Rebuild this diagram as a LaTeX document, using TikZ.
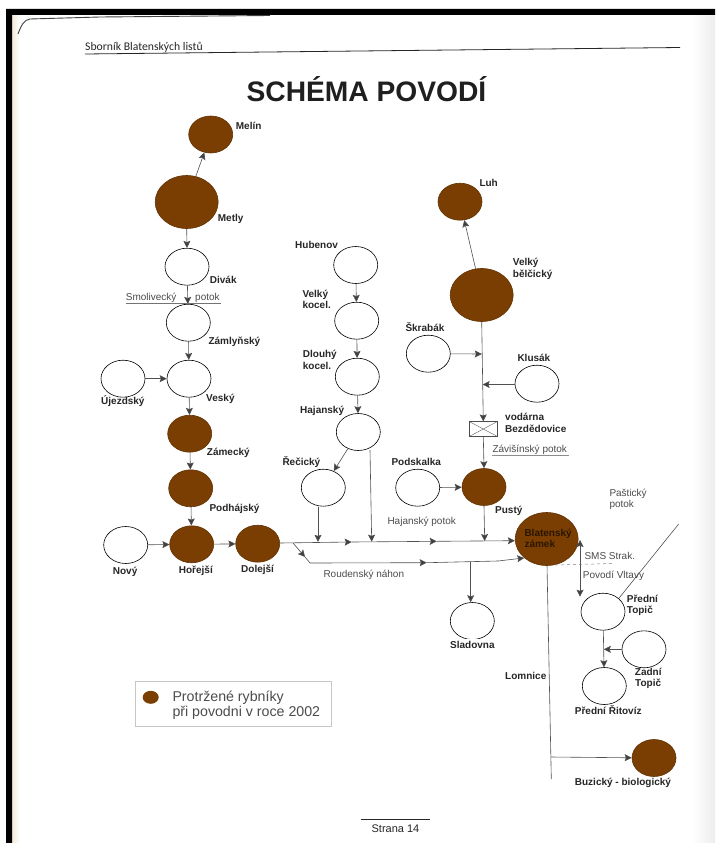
\documentclass[tikz,border=0pt]{standalone}
\usepackage{fontspec}
\setmainfont{Liberation Sans}
\newfontfamily\headfont{Carlito}
\usetikzlibrary{shapes.geometric,arrows.meta}
\definecolor{pond}{HTML}{7A3E02}
\definecolor{ln}{HTML}{505050}
\definecolor{cream}{HTML}{F3EBD8}
\tikzset{
  pondnode/.style={ellipse,draw=black,line width=0.6pt,minimum width=44pt,minimum height=37pt,inner sep=0pt},
  hit/.style={pondnode,fill=pond,draw=pond!80!black},
  bighit/.style={hit,minimum width=63pt,minimum height=53pt},
  lab/.style={anchor=west,inner sep=0pt,font=\bfseries\fontsize{10}{12}\selectfont,text=black!85,text height=7pt,text depth=2pt},
  river/.style={anchor=west,inner sep=0pt,font=\fontsize{10}{12}\selectfont,text=black!70,text height=7pt,text depth=2pt},
  flow/.style={draw=ln,line width=0.6pt,-{Stealth[length=7pt,width=7pt,inset=1.2pt,fill=black!75]}},
  plainflow/.style={draw=ln,line width=0.6pt},
}
\begin{document}
\begin{tikzpicture}[x=1pt,y=-1pt]
\useasboundingbox (0,0) rectangle (715,843);
\fill[white] (0,0) rectangle (715,843);
% scan frame and page edge
\shade[left color=cream,right color=white] (12,15) rectangle (20,843);
\shade[left color=white,right color=black!7] (692,15) rectangle (715,843);
\fill[black] (6,843) -- (6,9) -- (715,9) -- (715,15) -- (12,15) -- (12,843) -- cycle;
\draw[black!75,line width=0.9pt] (18,34) .. controls (21,26) and (24,19.5) .. (30,19) -- (100,17) -- (270,15.5);
% header
\node[anchor=west,inner sep=0pt,font=\headfont\fontsize{11.7}{14}\selectfont,text=black!85] (head) at (85,47) {Sborník Blatenských listů};
\coordinate (ruleA) at (85,54);
\coordinate (ruleB) at (680,47.5);
\draw[black!85,line width=0.8pt] (ruleA) -- (ruleB);
\node[inner sep=0pt,font=\bfseries\fontsize{28.2}{32}\selectfont,text=black!88] (title) at (366.5,89.5) {SCHÉMA POVODÍ};
% ponds
\node[hit,minimum width=44pt,minimum height=37pt] (melin) at (210.7,134.5) {};
\node[bighit] (metly) at (186.7,202) {};
\node[pondnode] (divak) at (187,266.7) {};
\node[pondnode] (zamlyn) at (188.3,322.7) {};
\node[pondnode] (vesky) at (189,378.7) {};
\node[pondnode] (ujezd) at (123,378.7) {};
\node[hit] (zamecky) at (189.7,433.7) {};
\node[hit] (podhaj) at (190.7,488.3) {};
\node[hit] (horejsi) at (191.7,544.3) {};
\node[hit] (dolejsi) at (257.7,543.7) {};
\node[pondnode] (novy) at (125.7,545) {};
\node[pondnode] (hubenov) at (355.7,265) {};
\node[pondnode] (velkykocel) at (356.7,320.7) {};
\node[pondnode] (dlouhy) at (357.3,376.7) {};
\node[pondnode] (hajansky) at (358.3,432) {};
\node[pondnode] (recicky) at (323.3,487.7) {};
\node[pondnode] (podskalka) at (417.7,487.7) {};
\node[hit] (luh) at (460,201.7) {};
\node[bighit] (belcicky) at (481.7,295) {};
\node[pondnode] (skrabak) at (428.3,353.7) {};
\node[pondnode] (klusak) at (537,383.7) {};
\node[hit] (pusty) at (484,487) {};
\node[bighit] (zamek) at (546.7,539) {};
\node[pondnode] (ptopic) at (603,611.7) {};
\node[pondnode] (ztopic) at (644,649.3) {};
\node[pondnode] (ritoviz) at (604.3,686) {};
\node[pondnode] (sladovna) at (472.3,621) {};
\node[hit] (buzicky) at (654,758) {};
% waterworks box
\node[draw=black!70,line width=0.6pt,minimum width=28pt,minimum height=14.6pt,inner sep=0pt] (vodarna) at (483.3,429) {};
\draw[ln,line width=0.35pt] (vodarna.north west) -- (vodarna.south east) (vodarna.south west) -- (vodarna.north east);
% junction coordinates
\coordinate (mainA) at (351.7,542);
\coordinate (mainB) at (436.7,541.3);
\coordinate (mainEnd) at (zamek.west |- 0,540.7);
\coordinate (jRec) at (318,541.8);
\coordinate (jHaj) at (371.7,541.7);
\coordinate (jPus) at (484.7,541);
\coordinate (roudA) at (293,543);
\coordinate (roudB) at (310,563);
\coordinate (roudMid) at (305,557);
\coordinate (roudC) at (426.7,562.7);
\coordinate (roudD) at (498,561);
\coordinate (jSlad) at (470.7,561.7);
\coordinate (jSkr) at (481.8,354);
\coordinate (jKlu) at (482.6,384.5);
\coordinate (lomEnd) at (551.3,779);
\coordinate (jBuz) at (551,757);
\coordinate (jZad) at (603.8,649.3);
\coordinate (pasEnd) at (678.7,524);
\coordinate (dashA) at (555,565);
\coordinate (dashB) at (613,563.5);
\coordinate (smolA) at (125.7,303);
\coordinate (smolB) at (221,303);
% connectors
\draw[flow] (metly) -- (melin);
\draw[flow] (metly.south) -- (divak.north);
\draw[flow] (divak) -- (zamlyn);
\draw[flow] (zamlyn) -- (vesky);
\draw[flow] (ujezd) -- (vesky);
\draw[flow] (vesky) -- (zamecky);
\draw[flow] (zamecky) -- (podhaj);
\draw[flow] (podhaj) -- (horejsi);
\draw[flow] (novy) -- (horejsi);
\draw[flow] (horejsi) -- (dolejsi);
\draw[flow] (hubenov) -- (velkykocel);
\draw[flow] (velkykocel) -- (dlouhy);
\draw[flow] (dlouhy) -- (hajansky);
\draw[flow] (hajansky) -- (recicky);
\draw[flow] (dolejsi.east |- 0,543) -- (mainA);
\draw[flow] (mainA) -- (mainB);
\draw[flow] (mainB) -- (mainEnd);
\draw[flow] (recicky.south -| jRec) -- (jRec);
\draw[flow] (370,450) -- (jHaj);
\draw[flow] (pusty.south) -- (jPus);
\draw[flow] (roudA) -- (roudMid);
\draw[plainflow] (roudMid) -- (roudB);
\draw[flow] (roudB) -- (roudC);
\draw[plainflow] (roudC) -- (roudD);
\draw[flow] (roudD) -- (zamek.south west);
\draw[flow] (jSlad) -- (sladovna.north -| jSlad);
\draw[flow] (belcicky) -- (luh);
\draw[flow] (belcicky.south) -- (vodarna.north);
\draw[flow] (skrabak) -- (jSkr);
\draw[flow] (klusak.west |- jKlu) -- (jKlu);
\draw[flow] (vodarna.south) -- (pusty.north);
\draw[flow] (podskalka) -- (pusty);
\draw[flow,{Stealth[length=7pt,width=7pt,inset=1.2pt,fill=black!75]}-{Stealth[length=7pt,width=7pt,inset=1.2pt,fill=black!75]}] (580,540) -- (580,596.7);
\draw[black!50,line width=0.5pt,dashed] (dashA) -- (dashB);
\draw[plainflow] (ptopic.north east) -- (pasEnd);
\draw[flow] (ptopic) -- (ritoviz);
\draw[flow] (ztopic) -- (jZad);
\draw[plainflow] (547,565) -- (lomEnd);
\draw[flow] (jBuz) -- (buzicky);
% clipped bits
\fill[white] (452,638.8) rectangle (492,641);
% labels
\node[lab] (tMelin) at (235.7,126.7) {Melín};
\node[lab] (tMetly) at (217.7,219) {Metly};
\node[lab] (tDivak) at (209.7,281) {Divák};
\node[river] (tSmol) at (125.7,298.3) {Smolivecký};
\node[river] (tSmol2) at (195,298.3) {potok};
\draw[black!55,line width=0.5pt] (smolA) -- (smolB);
\node[lab] (tZaml) at (208.3,342.3) {Zámlyňský};
\node[lab] (tVes) at (206,399) {Veský};
\node[lab] (tUj) at (101,402) {Újezdský};
\node[lab] (tHub) at (295,245.7) {Hubenov};
\node[lab] (tVk1) at (302.3,295) {Velký};
\node[lab] (tVk2) at (302.3,306) {kocel.};
\node[lab] (tDl1) at (302.7,355) {Dlouhý};
\node[lab] (tDl2) at (302.7,366.7) {kocel.};
\node[lab] (tHaj) at (300,411) {Hajanský};
\node[lab] (tZam) at (206.7,452.7) {Zámecký};
\node[lab] (tRec) at (282.3,463) {Řečický};
\node[lab] (tPods) at (391.3,463) {Podskalka};
\node[lab] (tPodh) at (209.3,509) {Podhájský};
\node[river] (tHajp) at (387.3,522.3) {Hajanský potok};
\node[lab] (tNovy) at (112.7,572) {Nový};
\node[lab] (tHor) at (178.7,571) {Hořejší};
\node[lab] (tDol) at (241,570) {Dolejší};
\node[river] (tRoud) at (323.3,575) {Roudenský náhon};
\node[lab] (tLuh) at (479.3,184.3) {Luh};
\node[lab] (tBe1) at (512.7,263.3) {Velký};
\node[lab] (tBe2) at (512.7,275.3) {bělčický};
\node[lab] (tSkr) at (405.3,329) {Škrabák};
\node[lab] (tKlu) at (517.3,359) {Klusák};
\node[lab] (tVod) at (505,418.3) {vodárna};
\node[lab] (tBez) at (505,429.7) {Bezdědovice};
\fill[white] (503,432) rectangle (575,436);
\node[river] (tZav) at (492.3,450.3) {Závišínský potok};
\coordinate (zavA) at (492.3,455);
\coordinate (zavB) at (569,455);
\draw[black!45,line width=0.5pt] (zavA) -- (zavB);
\node[lab] (tPus) at (495,511) {Pustý};
\node[river] (tPas1) at (609.3,494.3) {Paštický};
\node[river] (tPas2) at (609.3,505) {potok};
\node[lab,text=black!65!pond] (tBl1) at (524.3,534.3) {Blatenský};
\node[lab,text=black!65!pond] (tBl2) at (524.3,545) {zámek};
\node[river] (tSms) at (584.3,556.7) {SMS Strak.};
\node[river] (tPov) at (582.7,575.7) {Povodí Vltavy};
\node[lab] (tPt1) at (626.7,600.3) {Přední};
\node[lab] (tPt2) at (626.7,611) {Topič};
\node[lab] (tZt1) at (634.7,672.7) {Zadní};
\node[lab] (tZt2) at (635,683.7) {Topič};
\node[lab] (tRit) at (574.7,711.7) {Přední Řitovíz};
\node[lab] (tSla) at (450,646) {Sladovna};
\node[lab] (tLom) at (505,677) {Lomnice};
\node[lab] (tBuz) at (574.7,782.7) {Buzický - biologický};
% legend
\node[draw=black!22,line width=0.5pt,minimum width=196pt,minimum height=44.3pt,inner sep=0pt] (legend) at (233.3,703.8) {};
\node[ellipse,fill=pond,minimum width=16pt,minimum height=13pt,inner sep=0pt] (legdot) at (150.7,697.3) {};
\node[anchor=west,inner sep=0pt,font=\fontsize{14.2}{16}\selectfont,text=black!70] (legt1) at (172.3,698) {Protržené rybníky};
\node[anchor=west,inner sep=0pt,font=\fontsize{14.2}{16}\selectfont,text=black!70] (legt2) at (172.3,713) {při povodni v roce 2002};
% footer
\coordinate (footA) at (361,819);
\coordinate (footB) at (430,819);
\draw[black!85,line width=0.8pt] (footA) -- (footB);
\node[inner sep=0pt,font=\fontsize{11}{13}\selectfont,text=black!85] (foot) at (395.5,829) {Strana 14};
\end{tikzpicture}
\end{document}
